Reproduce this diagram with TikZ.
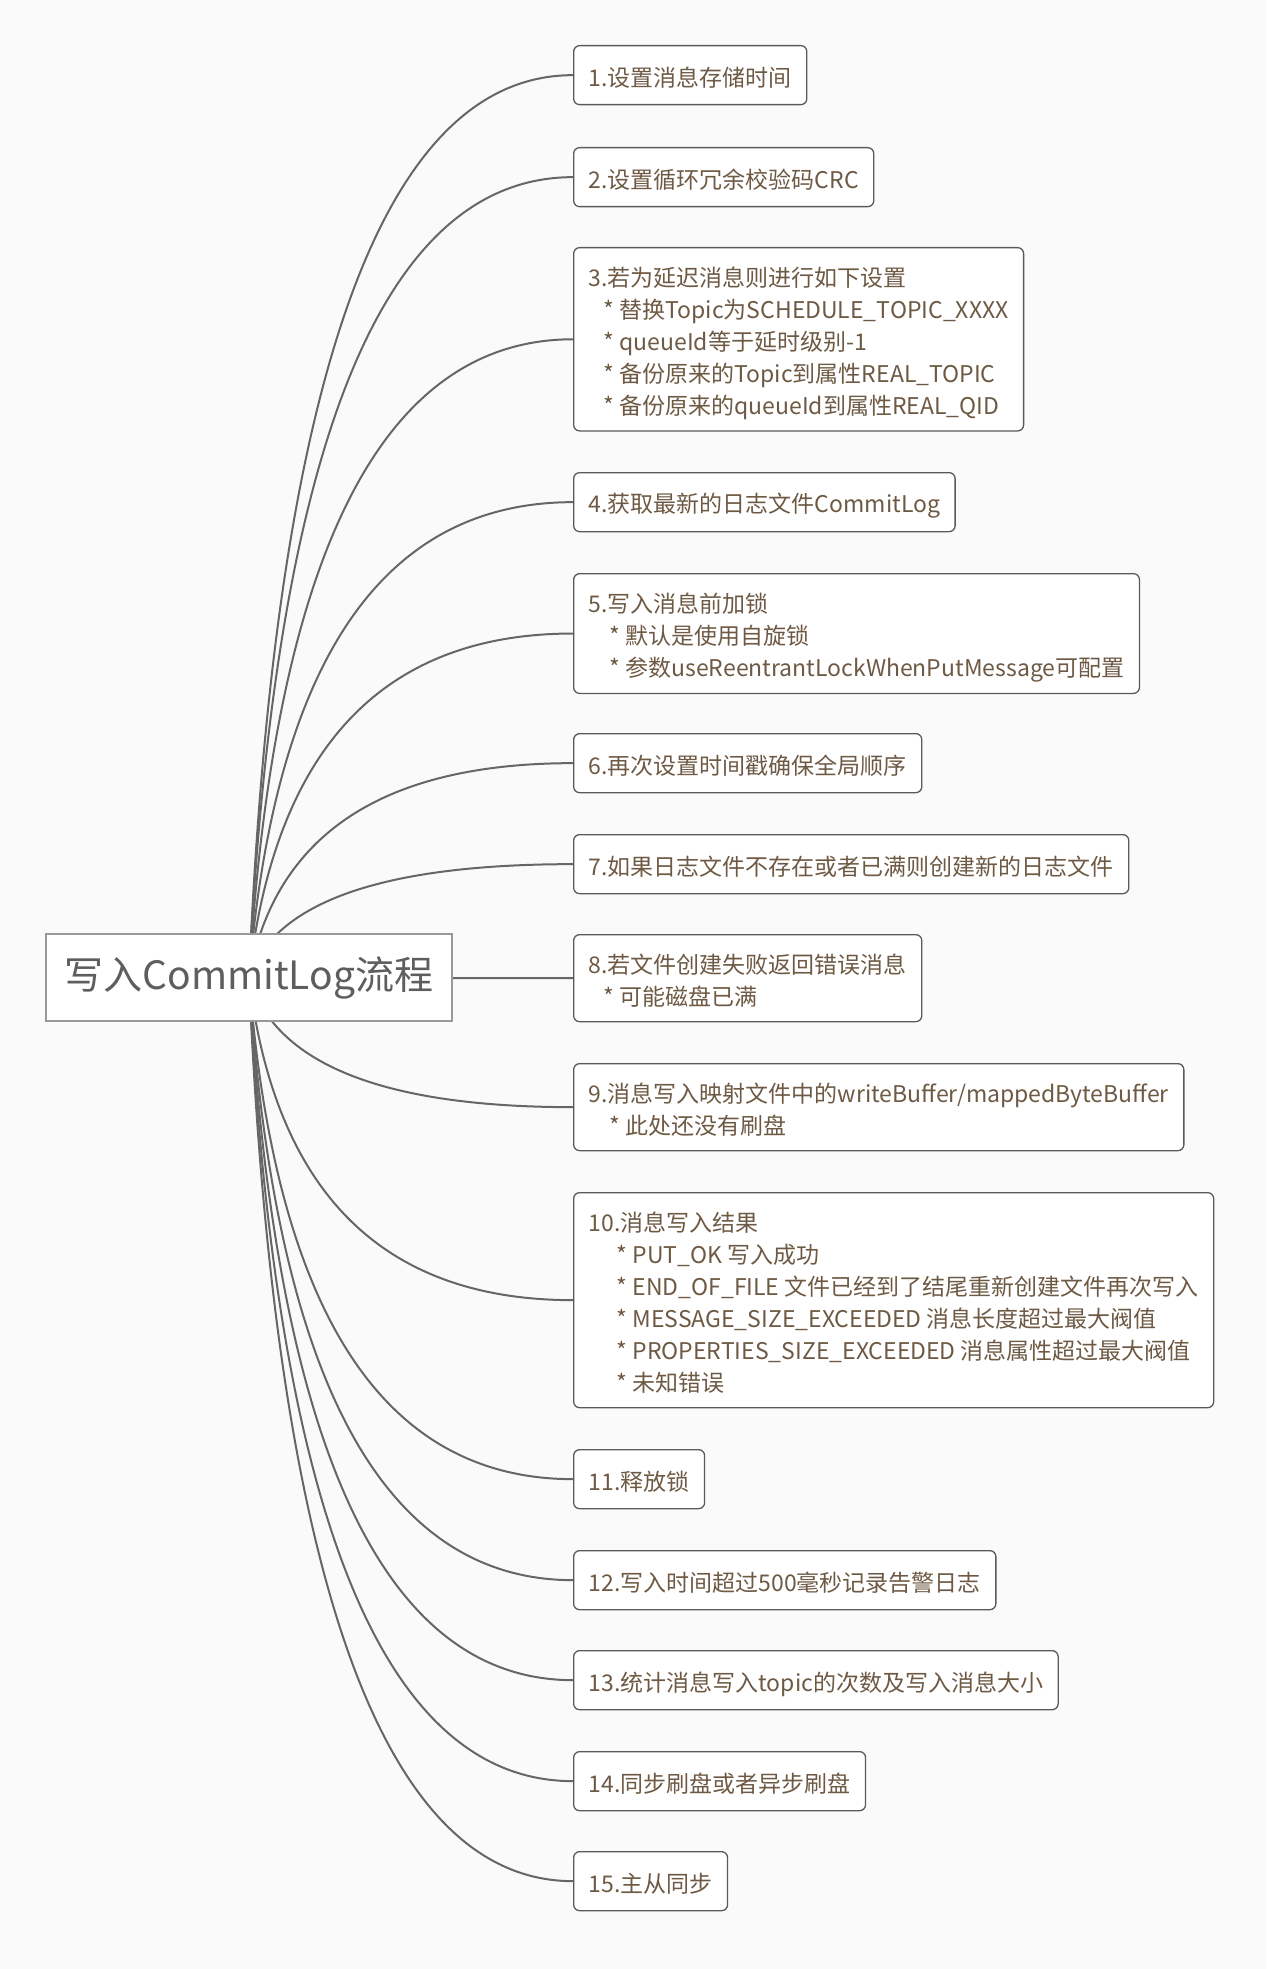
\documentclass[tikz,border=0pt]{standalone}
\usepackage{fontspec}
\newfontfamily\cjk{Noto Sans CJK SC}
\usetikzlibrary{calc,backgrounds}

\definecolor{pagebg}{HTML}{FAFAFA}
\definecolor{linegray}{HTML}{666666}
\definecolor{boxgray}{HTML}{5A5A5A}
\definecolor{rootgray}{HTML}{999999}
\definecolor{textbrown}{HTML}{6E5A44}
\definecolor{roottext}{HTML}{5E5E5E}

% line strut, a bit lower than \strut so the glyphs sit centred
\newcommand{\linestrut}{\rule[-5pt]{0pt}{32pt}}

\tikzset{
  topic/.style={draw=rootgray, line width=1.3pt, fill=white, text=roottext,
    font=\cjk\fontsize{39}{46}\selectfont, minimum width=406pt,
    minimum height=87pt, inner sep=0pt},
  subtopic/.style={draw=boxgray, line width=1.3pt, rounded corners=6pt,
    fill=white, text=textbrown, anchor=north west, align=left,
    inner xsep=15pt, inner ysep=11.5pt, minimum height=59pt,
    font=\cjk\fontsize{23}{32}\selectfont,
    execute at begin node=\linestrut, execute at end node=\linestrut},
  branch/.style={draw=linegray, line width=2pt,
    to path={let \p1=(\tikztostart), \p2=(\tikztotarget) in
      .. controls ({\x1+0.08*(\x2-\x1)},{\y1+0.667*(\y2-\y1)})
      and ({\x2-0.587*(\x2-\x1)},{\y2}) .. (\tikztotarget)}},
}

\begin{document}
\begin{tikzpicture}[x=1pt,y=-1pt]
\node[topic] (flow) at (249,977.5) {\raisebox{-3pt}{写入CommitLog流程}};

\node[subtopic] (s1) at (573,45) {1.设置消息存储时间};
\node[subtopic] (s2) at (573,147) {2.设置循环冗余校验码CRC};
\node[subtopic] (s3) at (573,247) {\linestrut 3.若为延迟消息则进行如下设置\\
  \hspace*{15pt}* 替换Topic为SCHEDULE\_TOPIC\_XXXX\\
  \hspace*{15pt}* queueId等于延时级别-1\\
  \hspace*{15pt}* 备份原来的Topic到属性REAL\_TOPIC\\
  \hspace*{15pt}* 备份原来的queueId到属性REAL\_QID};
\node[subtopic] (s4) at (573,472) {4.获取最新的日志文件CommitLog};
\node[subtopic] (s5) at (573,573) {\linestrut 5.写入消息前加锁\\
  \hspace*{21pt}* 默认是使用自旋锁\\
  \hspace*{21pt}* 参数useReentrantLockWhenPutMessage可配置};
\node[subtopic] (s6) at (573,733) {6.再次设置时间戳确保全局顺序};
\node[subtopic] (s7) at (573,834) {7.如果日志文件不存在或者已满则创建新的日志文件};
\node[subtopic] (s8) at (573,934) {\linestrut 8.若文件创建失败返回错误消息\\
  \hspace*{15pt}* 可能磁盘已满};
\node[subtopic] (s9) at (573,1063) {\linestrut 9.消息写入映射文件中的writeBuffer/mappedByteBuffer\\
  \hspace*{21pt}* 此处还没有刷盘};
\node[subtopic] (s10) at (573,1192) {\linestrut 10.消息写入结果\\
  \hspace*{28pt}* PUT\_OK 写入成功\\
  \hspace*{28pt}* END\_OF\_FILE 文件已经到了结尾重新创建文件再次写入\\
  \hspace*{28pt}* MESSAGE\_SIZE\_EXCEEDED 消息长度超过最大阀值\\
  \hspace*{28pt}* PROPERTIES\_SIZE\_EXCEEDED 消息属性超过最大阀值\\
  \hspace*{28pt}* 未知错误};
\node[subtopic] (s11) at (573,1449) {11.释放锁};
\node[subtopic] (s12) at (573,1550) {12.写入时间超过500毫秒记录告警日志};
\node[subtopic] (s13) at (573,1650) {13.统计消息写入topic的次数及写入消息大小};
\node[subtopic] (s14) at (573,1751) {14.同步刷盘或者异步刷盘};
\node[subtopic] (s15) at (573,1851) {15.主从同步};

\begin{pgfonlayer}{background}
\fill[pagebg] (0,0) rectangle (1266,1969);
\draw[branch] (flow.center) to (s1.west);
\draw[branch] (flow.center) to (s2.west);
\draw[branch] (flow.center) to (s3.west);
\draw[branch] (flow.center) to (s4.west);
\draw[branch] (flow.center) to (s5.west);
\draw[branch] (flow.center) to (s6.west);
\draw[branch] (flow.center) to (s7.west);
\draw[branch] (flow.center) to (s8.west);
\draw[branch] (flow.center) to (s9.west);
\draw[branch] (flow.center) to (s10.west);
\draw[branch] (flow.center) to (s11.west);
\draw[branch] (flow.center) to (s12.west);
\draw[branch] (flow.center) to (s13.west);
\draw[branch] (flow.center) to (s14.west);
\draw[branch] (flow.center) to (s15.west);
\end{pgfonlayer}
\end{tikzpicture}
\end{document}
